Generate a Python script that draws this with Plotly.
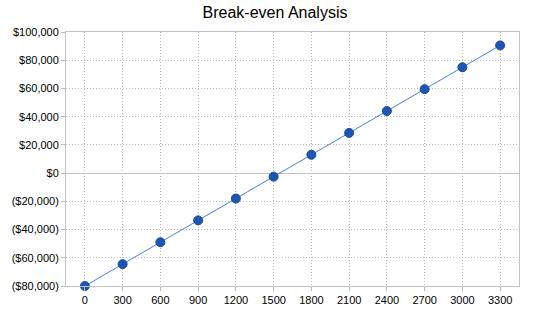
import plotly.graph_objects as go

units = ["0", "300", "600", "900", "1200", "1500", "1800", "2100", "2400", "2700", "3000", "3300"]
profit = [-80000, -64500, -49000, -33500, -18000, -2500, 13000, 28500, 44000, 59500, 75000, 90500]
y_ticks = [-80000, -60000, -40000, -20000, 0, 20000, 40000, 60000, 80000, 100000]
y_labels = ["($80,000)", "($60,000)", "($40,000)", "($20,000)", "$0", "$20,000", "$40,000", "$60,000", "$80,000", "$100,000"]

fig = go.Figure()
fig.add_trace(go.Scatter(
    x=units, y=profit, mode="lines+markers",
    line=dict(color="#4a80dc", width=1),
    marker=dict(size=9, color="#1f56b4", line=dict(color="#174a9e", width=1)),
    showlegend=False, cliponaxis=False,
))

fig.update_layout(
    width=550, height=318,
    margin=dict(l=64, r=31, t=32, b=31),
    paper_bgcolor="white", plot_bgcolor="white",
    title=dict(text="Break-even Analysis", x=0.5, xanchor="center", y=0.96, yanchor="middle",
               font=dict(family="Liberation Sans, Arial", size=16, color="#000")),
    font=dict(family="Liberation Sans, Arial", size=11, color="#000"),
    xaxis=dict(type="category", range=[-0.5, 11.5], showgrid=True, gridcolor="#bbbbbb",
               griddash="1px,2px", gridwidth=1, showline=True, linecolor="#c0c4c8", mirror=True,
               ticks="outside", ticklen=4, tickcolor="#bbbbbb", zeroline=False),
    yaxis=dict(range=[-80000, 100000], tickvals=y_ticks, ticktext=y_labels,
               showgrid=True, gridcolor="#bbbbbb", griddash="1px,2px", gridwidth=1,
               showline=True, linecolor="#c0c4c8", mirror=True,
               ticks="outside", ticklen=4, tickcolor="#bbbbbb",
               zeroline=True, zerolinecolor="#c0c4c8", zerolinewidth=1),
)

fig.write_html("out.html")
